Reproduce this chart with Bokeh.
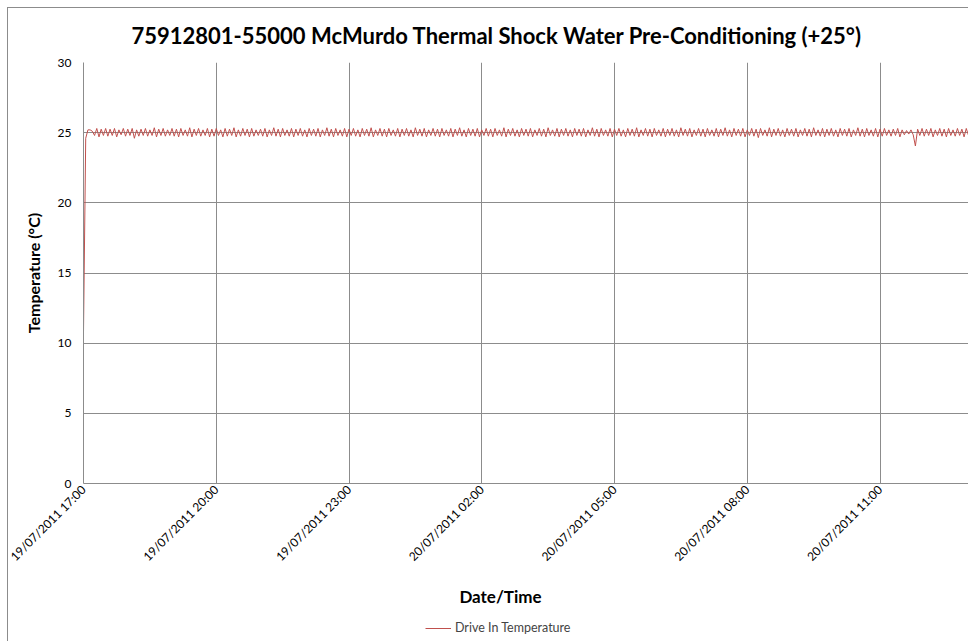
import math
from bokeh.plotting import figure
from bokeh.layouts import column
from bokeh.models import FixedTicker, Label, Legend, LegendItem, Range1d
from bokeh.embed import file_html
from bokeh.resources import INLINE

TITLE = "75912801-55000 McMurdo Thermal Shock Water Pre-Conditioning (+25°)"
X_LABEL = "Date/Time"
Y_LABEL = "Temperature (°C)"
SERIES = "Drive In Temperature"

# logging interval (minutes) starting 19/07/2011 17:00
STEP_MIN = 3
X_TICK_MIN = [0, 180, 360, 540, 720, 900, 1080]
X_TICK_LABELS = ["19/07/2011 17:00", "19/07/2011 20:00", "19/07/2011 23:00",
                 "20/07/2011 02:00", "20/07/2011 05:00", "20/07/2011 08:00",
                 "20/07/2011 11:00"]
Y_TICKS = [0, 5, 10, 15, 20, 25, 30]

temps = [
    # 17:00
    10.8, 24.6, 25.2, 25.2, 25.1, 24.8, 25.3, 24.7, 25.25, 24.8, 25.3, 24.75, 25.25, 24.8, 25.3, 24.7, 25.2, 24.85, 25.3, 24.75,
    # 18:00
    25.25, 24.8, 25.3, 24.6, 25.2, 24.75, 25.25, 24.8, 25.3, 24.75, 25.2, 24.8, 25.35, 24.7, 25.25, 24.8, 25.3, 24.75, 25.2, 24.8,
    # 19:00
    25.3, 24.75, 25.25, 24.7, 25.3, 24.8, 25.2, 24.75, 25.35, 24.7, 25.25, 24.8, 25.3, 24.75, 25.2, 24.8, 25.3, 24.7, 25.25, 24.75,
    # 20:00
    25.3, 24.8, 25.2, 24.7, 25.3, 24.75, 25.25, 24.8, 25.35, 24.7, 25.2, 24.75, 25.3, 24.8, 25.25, 24.7, 25.3, 24.75, 25.2, 24.8,
    # 21:00
    25.25, 24.75, 25.3, 24.7, 25.2, 24.8, 25.35, 24.75, 25.25, 24.7, 25.3, 24.8, 25.2, 24.75, 25.3, 24.7, 25.25, 24.8, 25.3, 24.75,
    # 22:00
    25.2, 24.7, 25.3, 24.8, 25.25, 24.75, 25.3, 24.7, 25.2, 24.8, 25.35, 24.75, 25.25, 24.7, 25.3, 24.8, 25.2, 24.75, 25.3, 24.7,
    # 23:00
    25.25, 24.8, 25.3, 24.75, 25.2, 24.7, 25.3, 24.8, 25.25, 24.75, 25.35, 24.7, 25.2, 24.8, 25.3, 24.75, 25.25, 24.7, 25.3, 24.8,
    # 00:00
    25.2, 24.75, 25.3, 24.7, 25.25, 24.8, 25.3, 24.75, 25.2, 24.7, 25.35, 24.8, 25.25, 24.75, 25.3, 24.7, 25.2, 24.8, 25.3, 24.75,
    # 01:00
    25.25, 24.7, 25.3, 24.8, 25.2, 24.75, 25.3, 24.7, 25.25, 24.8, 25.35, 24.75, 25.2, 24.7, 25.3, 24.8, 25.25, 24.75, 25.3, 24.7,
    # 02:00
    25.2, 24.8, 25.3, 24.75, 25.25, 24.7, 25.3, 24.8, 25.2, 24.75, 25.35, 24.7, 25.25, 24.8, 25.3, 24.75, 25.2, 24.7, 25.3, 24.8,
    # 03:00
    25.25, 24.75, 25.3, 24.7, 25.2, 24.8, 25.3, 24.75, 25.25, 24.7, 25.35, 24.8, 25.2, 24.75, 25.3, 24.7, 25.25, 24.8, 25.3, 24.75,
    # 04:00
    25.2, 24.7, 25.3, 24.8, 25.25, 24.75, 25.3, 24.7, 25.2, 24.8, 25.35, 24.75, 25.25, 24.7, 25.3, 24.8, 25.2, 24.75, 25.3, 24.7,
    # 05:00
    25.25, 24.8, 25.3, 24.75, 25.2, 24.7, 25.3, 24.8, 25.25, 24.75, 25.35, 24.7, 25.2, 24.8, 25.3, 24.75, 25.25, 24.7, 25.3, 24.8,
    # 06:00
    25.2, 24.75, 25.3, 24.7, 25.25, 24.8, 25.3, 24.75, 25.2, 24.7, 25.35, 24.8, 25.25, 24.75, 25.3, 24.7, 25.2, 24.8, 25.3, 24.75,
    # 07:00
    25.25, 24.7, 25.3, 24.8, 25.2, 24.75, 25.3, 24.7, 25.25, 24.8, 25.35, 24.75, 25.2, 24.7, 25.3, 24.8, 25.25, 24.75, 25.3, 24.7,
    # 08:00
    25.2, 24.8, 25.3, 24.75, 25.25, 24.65, 25.3, 24.8, 25.2, 24.75, 25.35, 24.7, 25.25, 24.8, 25.3, 24.75, 25.2, 24.7, 25.3, 24.8,
    # 09:00
    25.25, 24.75, 25.3, 24.7, 25.2, 24.8, 25.3, 24.75, 25.25, 24.7, 25.35, 24.8, 25.2, 24.75, 25.3, 24.7, 25.25, 24.8, 25.3, 24.75,
    # 10:00
    25.2, 24.7, 25.3, 24.8, 25.25, 24.75, 25.3, 24.7, 25.2, 24.8, 25.35, 24.75, 25.25, 24.7, 25.3, 24.8, 25.2, 24.75, 25.3, 24.7,
    # 11:00
    25.25, 24.75, 25.3, 24.8, 25.2, 24.75, 25.25, 24.8, 25.3, 24.7, 25.2, 24.85, 25.15, 24.9, 25.2, 24.85, 24.05, 25.25, 24.8, 25.3,
    # 12:00
    24.75, 25.25, 24.8, 25.3, 24.7, 25.2, 24.8, 25.3, 24.75, 25.25, 24.7, 25.3, 24.8, 25.2, 24.75, 25.3, 24.8, 25.25, 24.7, 25.3,
    # 13:00
    24.8,
]
minutes = [i * STEP_MIN for i in range(len(temps))]

FONT = "Lato"
GRID = "#8c8c8c"
LINE = "#c0504d"
W = 968
H1 = 572
H2 = 641 - H1

# ---------------- main chart ----------------
p = figure(width=W, height=H1, output_backend="svg", toolbar_location=None,
           x_range=Range1d(0, 1200), y_range=Range1d(0, 30),
           min_border_left=83, min_border_right=0, min_border_top=62,
           min_border_bottom=H1 - 484)
p.border_fill_color = None
p.styles = {"background": (
    "linear-gradient(#8c8c8c,#8c8c8c) 7px 7px / 1px 100% no-repeat, "
    "linear-gradient(#8c8c8c,#8c8c8c) 7px 7px / 100% 1px no-repeat, white")}
p.outline_line_color = None
p.background_fill_color = "white"

p.line(minutes, temps, line_color=LINE, line_width=1)

p.title.text = TITLE
p.title.align = "left"
p.title.offset = 48
p.title.standoff = 27
p.title.text_font = FONT
p.title.text_font_size = "22px"
p.title.text_font_style = "bold"
p.title.text_color = "black"

for ax in (p.xaxis[0], p.yaxis[0]):
    ax.axis_line_color = GRID
    ax.major_tick_out = 0
    ax.major_tick_in = 0
    ax.minor_tick_out = 0
    ax.minor_tick_in = 0
    ax.major_label_text_font = FONT
    ax.major_label_text_font_size = "12px"
    ax.major_label_text_color = "black"

p.xaxis.ticker = FixedTicker(ticks=X_TICK_MIN)
p.xaxis.major_label_overrides = dict(zip(X_TICK_MIN, X_TICK_LABELS))
p.xaxis.major_label_orientation = math.pi / 4
p.xaxis.major_label_standoff = 4

p.yaxis.ticker = FixedTicker(ticks=Y_TICKS)
p.yaxis.major_label_standoff = 12
p.yaxis.axis_label = Y_LABEL
p.yaxis.axis_label_text_font = FONT
p.yaxis.axis_label_text_font_size = "16px"
p.yaxis.axis_label_text_font_style = "bold"
p.yaxis.axis_label_text_color = "black"
p.yaxis.axis_label_standoff = 12

p.xgrid.ticker = FixedTicker(ticks=X_TICK_MIN)
p.ygrid.ticker = FixedTicker(ticks=Y_TICKS)
for g in (p.xgrid[0], p.ygrid[0]):
    g.grid_line_color = GRID
    g.grid_line_width = 1

# ---------------- footer: axis title + legend ----------------
# the footer frame is aligned with the chart frame (page x 83..968)
f = figure(width=W, height=H2, output_backend="svg", toolbar_location=None,
           x_range=Range1d(83, 968), y_range=Range1d(0, H2),
           x_axis_type=None, y_axis_type=None,
           min_border_left=0, min_border_right=0, min_border_top=0,
           min_border_bottom=0)
f.grid.visible = False
f.outline_line_color = None
f.border_fill_color = None
f.background_fill_color = None
f.styles = {"background": (
    "linear-gradient(#8c8c8c,#8c8c8c) 7px 0 / 1px 100% no-repeat, white")}

f.add_layout(Label(x=500, y=H2 - 24, text=X_LABEL, text_align="center",
                   text_baseline="middle", text_font=FONT,
                   text_font_size="17px", text_font_style="bold",
                   text_color="black"))

# same series drawn on an off-screen range: only its legend swatch shows here
f.extra_y_ranges = {"off": Range1d(1000, 2000)}
r_leg = f.line(minutes, temps, y_range_name="off", line_color=LINE, line_width=1)
legend = Legend(items=[LegendItem(label=SERIES, renderers=[r_leg])],
                location=(342, 6), orientation="horizontal",
                border_line_color=None, background_fill_alpha=0,
                label_text_font=FONT, label_text_font_size="12.5px",
                glyph_width=26, glyph_height=12, padding=2, margin=0,
                label_standoff=4)
f.add_layout(legend, "center")

layout = column(p, f, spacing=0)
open("out.html", "w").write(file_html(layout, INLINE))
